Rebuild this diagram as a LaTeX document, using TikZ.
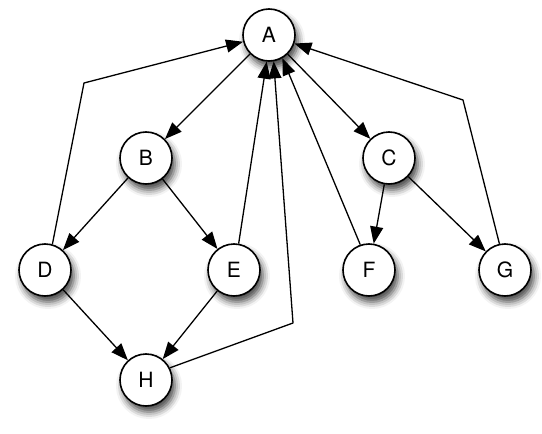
\documentclass[tikz,border=0pt]{standalone}
\usepackage{fontspec}
\setmainfont{TeX Gyre Heros}
\usepackage{tikz}
\usetikzlibrary{arrows.meta,shadows.blur}

\begin{document}
\begin{tikzpicture}[x=1pt,y=-1pt,line join=round,font=\fontsize{21}{24}\selectfont,
    vertex/.style={circle,draw,line width=1.6pt,fill=white,minimum size=52pt,inner sep=0pt,
      blur shadow={shadow xshift=3pt,shadow yshift=-6pt,shadow blur radius=7pt,shadow opacity=75}},
    edge/.style={line width=1.3pt,-{Triangle[length=17pt,width=13pt]}}]
  \useasboundingbox (0,0) rectangle (542,434);
  % vertices
  \node[vertex] (A) at (269,35) {A};
  \node[vertex] (B) at (146,158) {B};
  \node[vertex] (C) at (389,158) {C};
  \node[vertex] (D) at (45,270) {D};
  \node[vertex] (E) at (234,270) {E};
  \node[vertex] (F) at (369,270) {F};
  \node[vertex] (G) at (505,270) {G};
  \node[vertex] (H) at (146,380) {H};
  % bend points of the long back edges
  \coordinate (dbend) at (84,83);
  \coordinate (gbend) at (463,100);
  \coordinate (hbend) at (293,323);
  % tree edges
  \draw[edge] (A) -- (B);
  \draw[edge] (A) -- (C);
  \draw[edge] (B) -- (D);
  \draw[edge] (B) -- (E);
  \draw[edge] (C) -- (F);
  \draw[edge] (C) -- (G);
  \draw[edge] (D) -- (H);
  \draw[edge] (E) -- (H);
  % back edges into A
  \draw[edge] (D.74) -- (dbend) -- (A);
  \draw[edge] (G.102) -- (gbend) -- (A);
  \draw[edge] (E.80) -- (A.265);
  \draw[edge] (H.27) -- (hbend) -- (A.280);
  \draw[edge] (F.109) -- (A.300);
\end{tikzpicture}
\end{document}
